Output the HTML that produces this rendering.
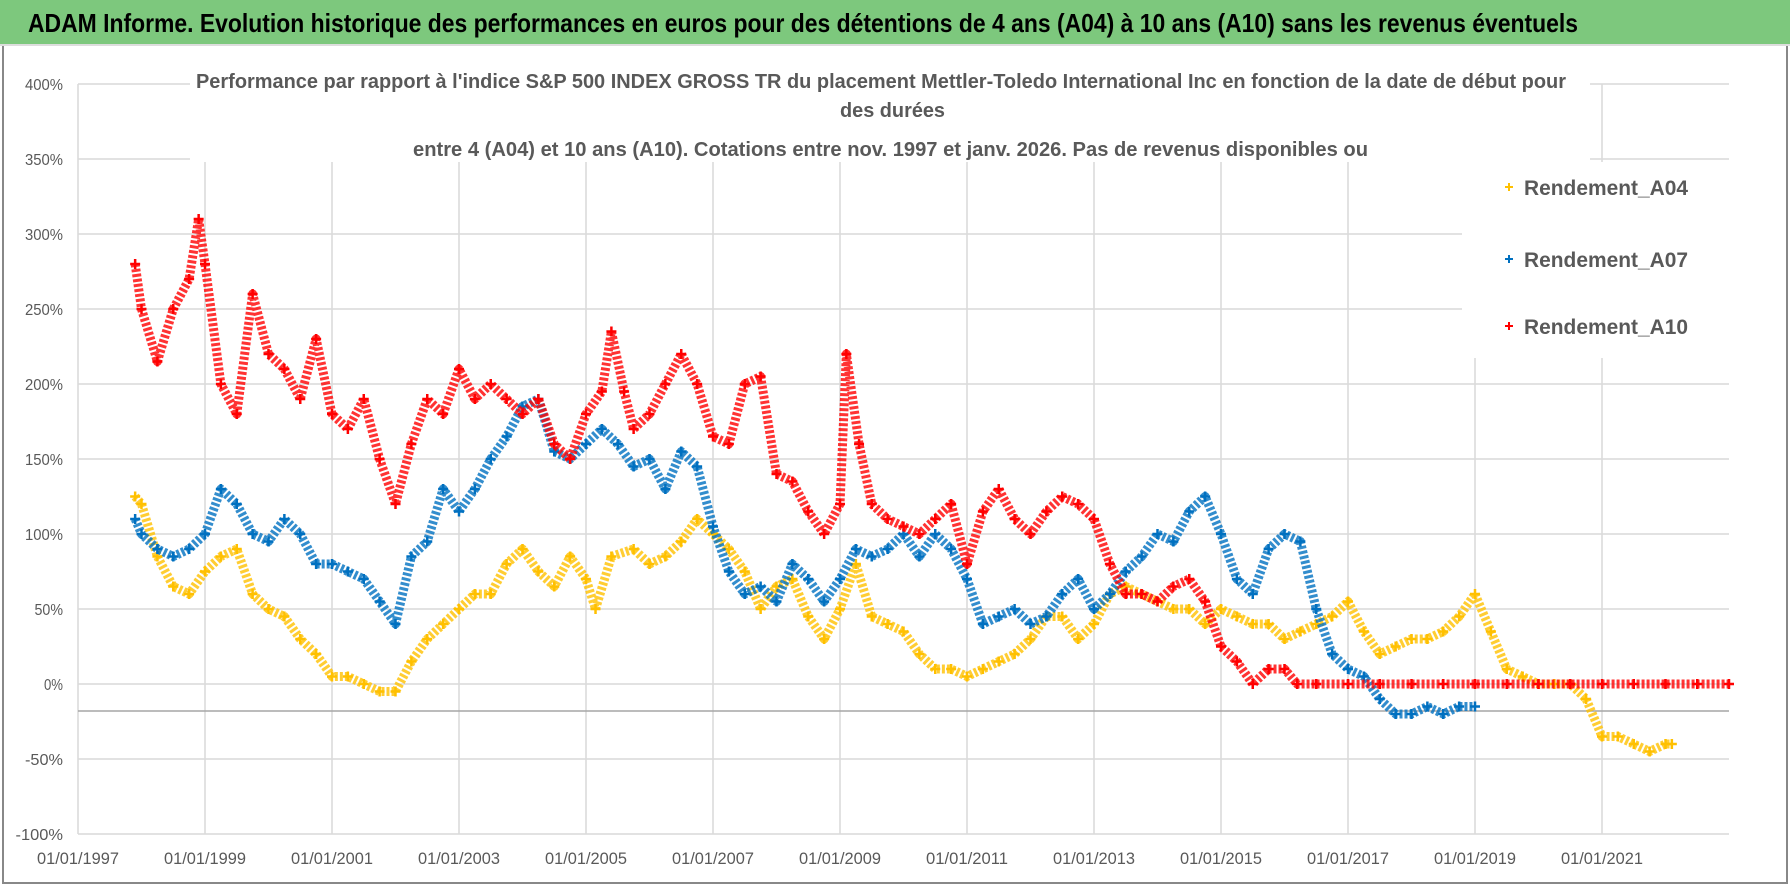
<!DOCTYPE html>
<html><head><meta charset="utf-8"><style>
body{margin:0;width:1790px;height:886px;overflow:hidden;background:#fff;font-family:"Liberation Sans",sans-serif}
#hdr{position:absolute;left:0;top:0;width:1790px;height:44px;background:#7dc87d;border-bottom:2px solid #ddd}
#frame{position:absolute;left:2px;top:46px;width:1782px;height:836px;border:2px solid #888;border-top:none}
</style></head><body>
<div id="hdr"></div>
<div id="frame"></div>
<svg id="chart" width="1790" height="886" style="position:absolute;left:0;top:0" font-family="Liberation Sans, sans-serif"></svg>
<script>
const yTicks=[400,350,300,250,200,150,100,50,0,-50,-100];
const xTickYears=[1997,1999,2001,2003,2005,2007,2009,2011,2013,2015,2017,2019,2021];
const a04Dates=[1997.9,1998,1998.25,1998.5,1998.75,1999,1999.25,1999.5,1999.75,2000,2000.25,2000.5,2000.75,2001,2001.25,2001.5,2001.75,2002,2002.25,2002.5,2002.75,2003,2003.25,2003.5,2003.75,2004,2004.25,2004.5,2004.75,2005,2005.15,2005.4,2005.75,2006,2006.25,2006.5,2006.75,2007,2007.25,2007.5,2007.75,2008,2008.25,2008.5,2008.75,2009,2009.25,2009.5,2009.75,2010,2010.25,2010.5,2010.75,2011,2011.25,2011.5,2011.75,2012,2012.25,2012.5,2012.75,2013,2013.25,2013.5,2013.75,2014,2014.25,2014.5,2014.75,2015,2015.25,2015.5,2015.75,2016,2016.25,2016.5,2016.75,2017,2017.25,2017.5,2017.75,2018,2018.25,2018.5,2018.75,2019,2019.25,2019.5,2019.75,2020,2020.25,2020.5,2020.75,2021,2021.25,2021.5,2021.75,2022,2022.1];
const a04Values=[125,120,85,65,60,75,85,90,60,50,45,30,20,5,5,0,-5,-5,15,30,40,50,60,60,80,90,75,65,85,70,50,85,90,80,85,95,110,100,90,75,50,65,70,45,30,50,80,45,40,35,20,10,10,5,10,15,20,30,45,45,30,40,60,65,60,55,50,50,40,50,45,40,40,30,35,40,45,55,35,20,25,30,30,35,45,60,35,10,5,0,0,0,-10,-35,-35,-40,-45,-40,-40];
const a07Dates=[1997.9,1998,1998.25,1998.5,1998.75,1999,1999.25,1999.5,1999.75,2000,2000.25,2000.5,2000.75,2001,2001.25,2001.5,2001.75,2002,2002.25,2002.5,2002.75,2003,2003.25,2003.5,2003.75,2004,2004.25,2004.5,2004.75,2005,2005.25,2005.5,2005.75,2006,2006.25,2006.5,2006.75,2007,2007.25,2007.5,2007.75,2008,2008.25,2008.5,2008.75,2009,2009.25,2009.5,2009.75,2010,2010.25,2010.5,2010.75,2011,2011.25,2011.5,2011.75,2012,2012.25,2012.5,2012.75,2013,2013.25,2013.5,2013.75,2014,2014.25,2014.5,2014.75,2015,2015.25,2015.5,2015.75,2016,2016.25,2016.5,2016.75,2017,2017.25,2017.5,2017.75,2018,2018.25,2018.5,2018.75,2019];
const a07Values=[110,100,90,85,90,100,130,120,100,95,110,100,80,80,75,70,55,40,85,95,130,115,130,150,165,185,190,155,150,160,170,160,145,150,130,155,145,105,75,60,65,55,80,70,55,70,90,85,90,100,85,100,90,70,40,45,50,40,45,60,70,50,60,75,85,100,95,115,125,100,70,60,90,100,95,50,20,10,5,-10,-20,-20,-15,-20,-15,-15];
const a10Dates=[1997.9,1998,1998.25,1998.5,1998.75,1998.9,1999,1999.25,1999.5,1999.75,2000,2000.25,2000.5,2000.75,2001,2001.25,2001.5,2001.75,2002,2002.25,2002.5,2002.75,2003,2003.25,2003.5,2003.75,2004,2004.25,2004.5,2004.75,2005,2005.25,2005.4,2005.6,2005.75,2006,2006.25,2006.5,2006.75,2007,2007.25,2007.5,2007.75,2008,2008.25,2008.5,2008.75,2009,2009.1,2009.3,2009.5,2009.75,2010,2010.25,2010.5,2010.75,2011,2011.25,2011.5,2011.75,2012,2012.25,2012.5,2012.75,2013,2013.25,2013.5,2013.75,2014,2014.25,2014.5,2014.75,2015,2015.25,2015.5,2015.75,2016,2016.2,2016.5,2017,2017.5,2018,2018.5,2019,2019.5,2020,2020.5,2021,2021.5,2022,2022.5,2023];
const a10Values=[280,250,215,250,270,310,280,200,180,260,220,210,190,230,180,170,190,150,120,160,190,180,210,190,200,190,180,190,160,150,180,195,235,195,170,180,200,220,200,165,160,200,205,140,135,115,100,120,220,160,120,110,105,100,110,120,80,115,130,110,100,115,125,120,110,80,60,60,55,65,70,55,25,15,0,10,10,0,0,0,0,0,0,0,0,0,0,0,0,0,0,0];
const NS='http://www.w3.org/2000/svg';
const svg=document.getElementById('chart');
const X0=78,X1=1729,Y0=834,Y1=84;
function xs(yr){return X0+(yr-1997)*63.5;}
function ys(v){return Y0-(v+100)/500*(Y0-Y1);}
function mk(t,a){const e=document.createElementNS(NS,t);for(const k in a)e.setAttribute(k,a[k]);svg.appendChild(e);return e;}
const ht=mk('text',{x:28,y:32,'font-size':26,'font-weight':'bold',fill:'#000',textLength:1550,lengthAdjust:'spacingAndGlyphs'});
ht.textContent='ADAM Informe. Evolution historique des performances en euros pour des détentions de 4 ans (A04) à 10 ans (A10) sans les revenus éventuels';


yTicks.forEach(v=>{
 const l=mk('line',{x1:X0,x2:X1,y1:ys(v),y2:ys(v),stroke:'#d9d9d9','stroke-width':1.5});
 
 
 const s=v+'%';
 const t=mk('text',{x:X0-15,y:ys(v)+6,'text-anchor':'end','font-size':16,fill:'#595959',textLength:s.length*9.5,lengthAdjust:'spacingAndGlyphs'});
 t.textContent=s;
 
 
});
xTickYears.forEach(yr=>{
 const l=mk('line',{x1:xs(yr),x2:xs(yr),y1:Y1,y2:Y0,stroke:'#d9d9d9','stroke-width':1.5});
 
 
 const t=mk('text',{x:xs(yr)-41,y:864,'font-size':17,fill:'#595959',textLength:82,lengthAdjust:'spacingAndGlyphs'});
 t.textContent='01/01/'+yr;
 
 
});
const ref=mk('line',{x1:X0,x2:X1,y1:ys(-18),y2:ys(-18),stroke:'#a6a6a6','stroke-width':1.5});


function series(d,v,col,name){
 const g=mk('g',{});
 
 
 const pts=d.map((x,i)=>xs(x)+','+ys(v[i])).join(' ');
 const p=document.createElementNS(NS,'polyline');
 p.setAttribute('points',pts);p.setAttribute('fill','none');p.setAttribute('stroke',col);p.setAttribute('stroke-width',9);p.setAttribute('stroke-linejoin','round');p.setAttribute('opacity','0.8');p.setAttribute('stroke-dasharray','3 2');
 
 
 g.appendChild(p);
 d.forEach((x,i)=>{
  const cx=xs(x),cy=ys(v[i]);
  const m=document.createElementNS(NS,'path');
  m.setAttribute('d','M'+(cx-5)+' '+cy+'h10M'+cx+' '+(cy-5)+'v10');
  m.setAttribute('stroke',col);m.setAttribute('stroke-width',2.5);
  
  
  g.appendChild(m);
 });
}
series(a04Dates,a04Values,'#ffc000','series-a04');
series(a07Dates,a07Values,'#0070c0','series-a07');
series(a10Dates,a10Values,'#ff0000','series-a10');
const tb=mk('rect',{x:190,y:68,width:1400,height:94,fill:'#fff'});


const lines=[["Performance par rapport à l'indice S&P 500 INDEX GROSS TR  du placement Mettler-Toledo International Inc en fonction de la date de début pour",88,196,1370],["des durées",117,840,105],["entre 4 (A04) et 10 ans (A10). Cotations entre nov. 1997 et janv. 2026. Pas de revenus disponibles ou",156,413,955]];
lines.forEach(([s,y,x,w])=>{
 const t=mk('text',{x:x,y:y,'font-size':20,'font-weight':'bold',fill:'#595959',textLength:w,lengthAdjust:'spacingAndGlyphs'});
 t.textContent=s;
 
 
});
const lb=mk('rect',{x:1462,y:162,width:296,height:196,fill:'#fff'});


[['Rendement_A04','#ffc000',187],['Rendement_A07','#0070c0',259],['Rendement_A10','#ff0000',326]].forEach(([s,c,y])=>{
 const m=mk('path',{d:'M1505 '+y+'h8M1509 '+(y-4)+'v8',stroke:c,'stroke-width':2});
 
 
 const t=mk('text',{x:1524,y:y+8,'font-size':21,'font-weight':'bold',fill:'#595959',textLength:164,lengthAdjust:'spacingAndGlyphs'});
 t.textContent=s;
 
 
});
</script>
</body></html>
